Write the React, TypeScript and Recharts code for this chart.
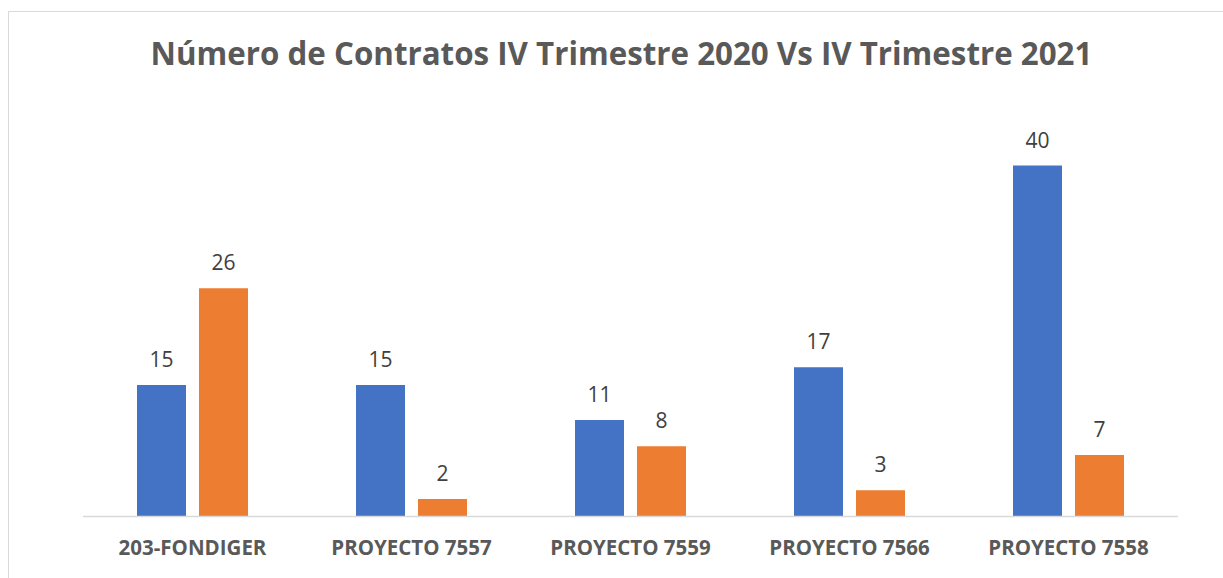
import { BarChart, Bar, XAxis, YAxis, LabelList } from "recharts";

const categories = [
  "203-FONDIGER",
  "PROYECTO 7557",
  "PROYECTO 7559",
  "PROYECTO 7566",
  "PROYECTO 7558",
];
const trimestre2020 = [15, 15, 11, 17, 40];
const trimestre2021 = [26, 2, 8, 3, 7];

const chartData = categories.map((name, i) => ({
  name,
  t2020: trimestre2020[i],
  t2021: trimestre2021[i],
}));

const FONT = "'Open Sans', 'Noto Sans', sans-serif";

function CategoryTick(props: any) {
  const { x, y, payload } = props;
  return (
    <text
      x={x}
      y={y + 30}
      textAnchor="middle"
      fill="#595959"
      fontFamily={FONT}
      fontWeight={700}
      fontSize={20.5}
    >
      {payload.value}
    </text>
  );
}

export default function App() {
  return (
    <div
      style={{
        position: "absolute",
        left: 0,
        top: 0,
        width: 1223,
        height: 578,
        background: "#fff",
        overflow: "hidden",
      }}
    >
      <div
        style={{
          position: "absolute",
          left: 8,
          top: 11,
          width: 1300,
          height: 700,
          border: "1.5px solid #d9d9d9",
        }}
      />
      <div
        style={{
          position: "absolute",
          left: 0,
          top: 33,
          width: 1243,
          textAlign: "center",
          fontFamily: FONT,
          fontWeight: 700,
          fontSize: 31.3,
          color: "#595959",
          lineHeight: "40px",
        }}
      >
        Número de Contratos IV Trimestre 2020 Vs IV Trimestre 2021
      </div>
      <div style={{ position: "absolute", left: 0, top: 0 }}>
        <BarChart
          width={1223}
          height={578}
          data={chartData}
          margin={{ top: 165.5, right: 45, bottom: 21.5, left: 83 }}
          barSize={49}
          barGap={13}
        >
          <XAxis
            dataKey="name"
            height={40}
            tickLine={false}
            axisLine={{ stroke: "#d9d9d9", strokeWidth: 1.5 }}
            tick={<CategoryTick />}
            interval={0}
          />
          <YAxis hide domain={[0, 40]} />
          <Bar dataKey="t2020" fill="#4472C4" isAnimationActive={false}>
            <LabelList
              dataKey="t2020"
              position="top"
              offset={18}
              fill="#404040"
              fontFamily={FONT}
              fontSize={21}
            />
          </Bar>
          <Bar dataKey="t2021" fill="#ED7D31" isAnimationActive={false}>
            <LabelList
              dataKey="t2021"
              position="top"
              offset={18}
              fill="#404040"
              fontFamily={FONT}
              fontSize={21}
            />
          </Bar>
        </BarChart>
      </div>
    </div>
  );
}
